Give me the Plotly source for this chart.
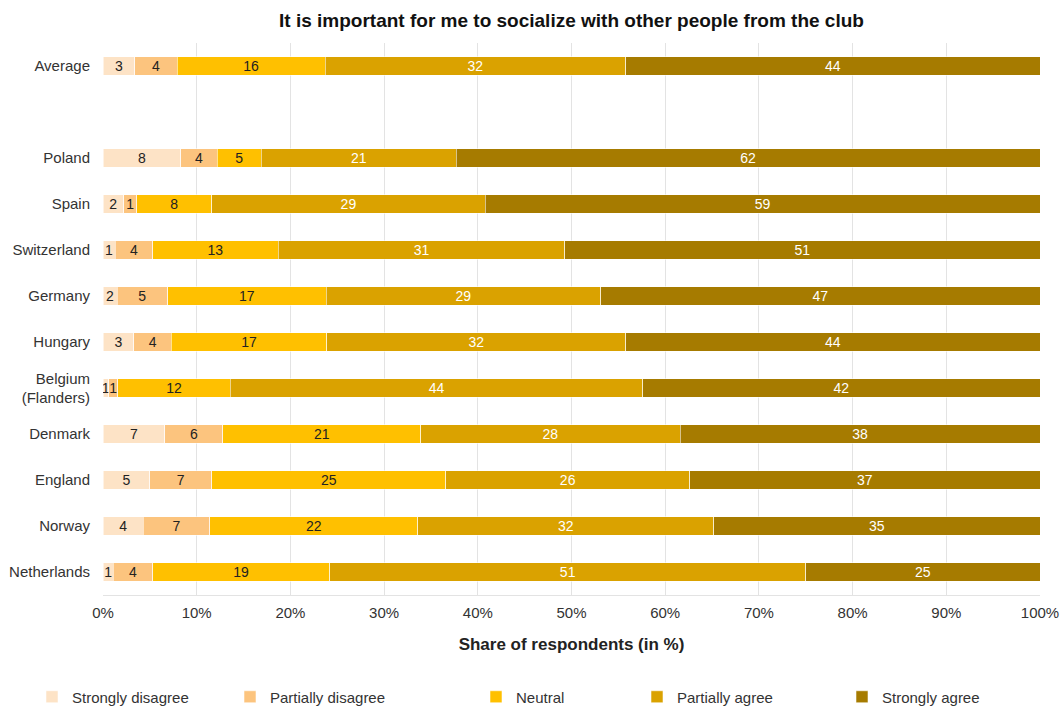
import plotly.graph_objects as go

categories = ["Average", " ", "Poland", "Spain", "Switzerland", "Germany", "Hungary",
              "Belgium<br>(Flanders)", "Denmark", "England", "Norway", "Netherlands"]

series_names = ["Strongly disagree", "Partially disagree", "Neutral", "Partially agree", "Strongly agree"]

strongly_disagree = [3.4, None, 8.3, 2.2, 1.3, 1.5, 3.3, 0.6, 6.6, 5.0, 4.3, 1.1]
partially_disagree = [4.5, None, 3.9, 1.4, 4.0, 5.4, 4.0, 1.0, 6.2, 6.6, 7.1, 4.2]
neutral = [15.8, None, 4.7, 8.0, 13.4, 16.9, 16.6, 12.0, 21.1, 25.0, 22.2, 18.9]
partially_agree = [32.1, None, 20.8, 29.2, 30.6, 29.3, 31.9, 44.0, 27.7, 26.0, 31.6, 50.8]
strongly_agree = [44.2, None, 62.3, 59.2, 50.7, 46.9, 44.2, 42.4, 38.4, 37.4, 34.8, 25.0]

tick_vals = [0, 10, 20, 30, 40, 50, 60, 70, 80, 90, 100]
tick_text = [f"{v}%" for v in tick_vals]

FONT = "Liberation Sans, Arial, sans-serif"
colors = ["#FDE3C6", "#FCC47E", "#FFC000", "#DAA200", "#A67B00"]
text_colors = ["#222222", "#222222", "#222222", "#FFFFFF", "#FFFFFF"]
legend_x_px = [32, 230, 476, 637, 842]

all_series = [strongly_disagree, partially_disagree, neutral, partially_agree, strongly_agree]

PL, PR, PT, PB = 103, 1040, 43, 595
W, H = 1060, 707

fig = go.Figure()
for i, (name, vals) in enumerate(zip(series_names, all_series)):
    lg = "legend" if i == 0 else f"legend{i+1}"
    fig.add_trace(go.Bar(
        y=categories, x=vals, name=name, orientation="h",
        marker=dict(color=colors[i], line=dict(color="rgba(255,255,255,0.55)", width=1)),
        text=[("" if v is None else f"{v:.0f}") for v in vals],
        texttemplate="%{text}",
        textposition="inside", insidetextanchor="middle", textangle=0,
        textfont=dict(color=text_colors[i], size=14, family=FONT),
        legend=lg, showlegend=True, hoverinfo="x+y+name",
    ))

layout_legends = {}
for i in range(5):
    key = "legend" if i == 0 else f"legend{i+1}"
    layout_legends[key] = dict(
        xref="paper", yref="paper",
        x=(legend_x_px[i] - PL) / (PR - PL), y=(PB - 697) / (PB - PT),
        xanchor="left", yanchor="middle",
        orientation="h", bgcolor="rgba(0,0,0,0)",
        font=dict(size=15, color="#333333", family=FONT),
        itemclick=False, itemdoubleclick=False,
    )

fig.update_layout(
    barmode="stack",
    bargap=0.6,
    showlegend=True,
    width=W, height=H,
    margin=dict(l=PL, r=W - PR, t=PT, b=H - PB, autoexpand=False),
    paper_bgcolor="white", plot_bgcolor="white",
    font=dict(family=FONT, size=15, color="#333333"),
    title=dict(text="<b>It is important for me to socialize with other people from the club</b>",
               x=0.5, xref="paper", y=1 - 20 / H, yref="container", yanchor="middle",
               font=dict(size=19, color="#111111")),
    uniformtext=dict(minsize=14, mode="show"),
    xaxis=dict(range=[0, 100], tickvals=tick_vals, ticktext=tick_text,
               showgrid=True, gridcolor="#E3E3E3", gridwidth=1, zeroline=False,
               showline=True, linecolor="#E3E3E3", linewidth=1,
               tickfont=dict(size=15, color="#333333"), ticks="", ticklen=0,
               ticklabelstandoff=4,
               automargin=False,
               title=dict(text="<b>Share of respondents (in %)</b>", font=dict(size=17, color="#222222"),
                          standoff=18)),
    yaxis=dict(categoryorder="array", categoryarray=categories, autorange="reversed",
               showgrid=False, ticks="", tickfont=dict(size=15, color="#333333"),
               ticklabelstandoff=12,
               automargin=False),
    **layout_legends,
)

fig.write_html("out.html", config={"displayModeBar": False},
               post_script="document.body.style.margin='0';document.body.style.overflow='hidden';")
